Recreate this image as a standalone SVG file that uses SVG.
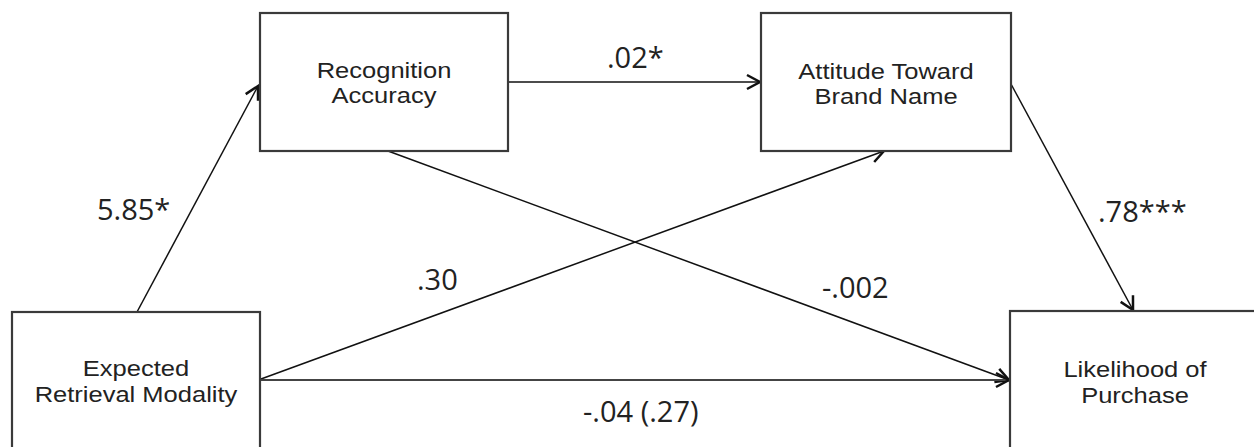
<svg xmlns="http://www.w3.org/2000/svg" width="1254" height="447" viewBox="0 0 1254 447">
<style>
.box{fill:#fff;stroke:#3a3a3a;stroke-width:2.2}
.nt{font-family:"Liberation Sans",Arial,sans-serif;font-size:22px;fill:#222;text-anchor:middle}
.lb{font-family:"Open Sans","Liberation Sans",sans-serif;font-size:29px;fill:#222}
.ln{fill:none;stroke:#111;stroke-width:1.5}
</style>
<defs>
<marker id="ah" markerUnits="userSpaceOnUse" markerWidth="18" markerHeight="18" refX="14" refY="8" orient="auto" viewBox="0 0 18 16">
<path d="M1,1 L14,8 L1,15" fill="none" stroke="#111" stroke-width="2.5"/>
</marker>
</defs>
<rect width="1254" height="447" fill="#fff"/>
<g id="connectors">
<line class="ln" x1="137" y1="312" x2="258" y2="86" marker-end="url(#ah)"/>
<line class="ln" x1="508" y1="82" x2="760" y2="82" marker-end="url(#ah)"/>
<line class="ln" x1="261" y1="379" x2="884" y2="151" marker-end="url(#ah)"/>
<line class="ln" x1="388" y1="151" x2="1009" y2="380" marker-end="url(#ah)"/>
<line x1="261" y1="380" x2="1009" y2="380" stroke="#444" stroke-width="2" marker-end="url(#ah)"/>
<line class="ln" x1="1011" y1="84" x2="1133" y2="310" marker-end="url(#ah)"/>
<text class="lb" x="97" y="220">5.85*</text>
<text class="lb" x="607" y="68">.02*</text>
<text class="lb" x="417" y="290">.30</text>
<text class="lb" x="822" y="298">-.002</text>
<text class="lb" x="1098" y="222">.78***</text>
<text class="lb" x="583" y="422">-.04 (.27)</text>
</g>
<g id="recognition">
<rect class="box" x="260" y="13" width="248" height="138"/>
<text class="nt" transform="translate(384 0) scale(1.16 1)" x="0" y="78">Recognition</text>
<text class="nt" transform="translate(384 0) scale(1.16 1)" x="0" y="103">Accuracy</text>
</g>
<g id="attitude">
<rect class="box" x="761" y="13" width="250" height="138"/>
<text class="nt" transform="translate(886 0) scale(1.16 1)" x="0" y="79">Attitude Toward</text>
<text class="nt" transform="translate(886 0) scale(1.16 1)" x="0" y="104">Brand Name</text>
</g>
<g id="expected">
<rect class="box" x="12" y="312" width="248" height="150"/>
<text class="nt" transform="translate(136 0) scale(1.16 1)" x="0" y="376">Expected</text>
<text class="nt" transform="translate(136 0) scale(1.16 1)" x="0" y="402">Retrieval Modality</text>
</g>
<g id="likelihood">
<rect class="box" x="1010" y="311" width="252" height="150"/>
<text class="nt" transform="translate(1135 0) scale(1.16 1)" x="0" y="377">Likelihood of</text>
<text class="nt" transform="translate(1135 0) scale(1.16 1)" x="0" y="403">Purchase</text>
</g>
</svg>
